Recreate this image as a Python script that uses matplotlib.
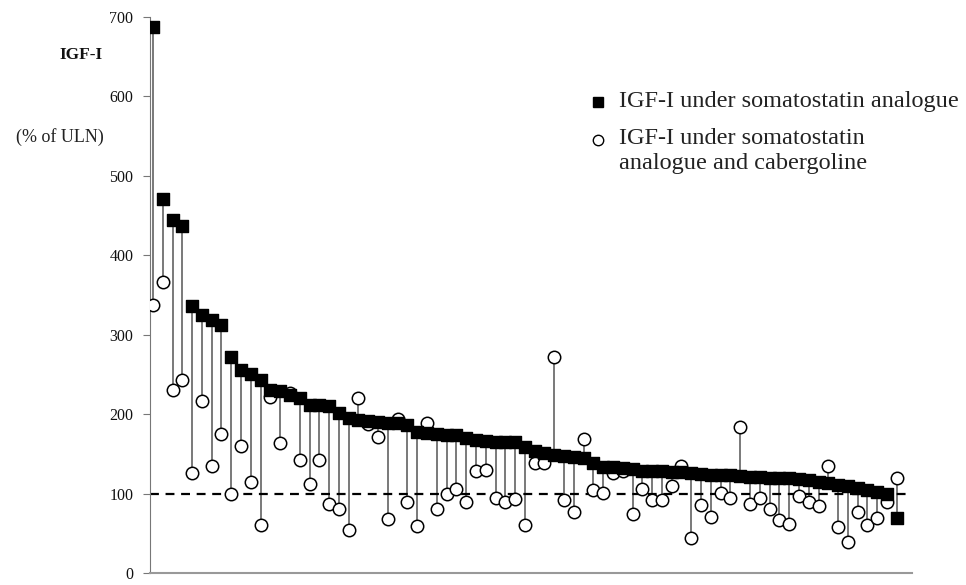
import matplotlib
matplotlib.use("Agg")
import matplotlib.pyplot as plt
from matplotlib.lines import Line2D
import numpy as np

# IGF-I (% of ULN) under somatostatin analogue, patients sorted descending
igf_ssa = [688, 471, 445, 437, 336, 325, 319, 312, 272, 256,
           250, 243, 231, 229, 224, 220, 212, 211, 210, 202,
           195, 193, 191, 190, 189, 189, 186, 178, 176, 175,
           174, 174, 170, 167, 166, 165, 165, 165, 159, 153,
           151, 149, 147, 146, 145, 138, 134, 133, 132, 131,
           129, 129, 128, 127, 127, 126, 125, 124, 124, 123,
           122, 121, 121, 120, 120, 119, 118, 117, 115, 113,
           111, 110, 107, 105, 102, 100, 69]
# IGF-I under somatostatin analogue + cabergoline
igf_combo = [337, 366, 230, 243, 126, 216, 135, 175, 100, 160,
             114, 60, 222, 164, 227, 142, 112, 142, 87, 80,
             54, 220, 188, 171, 68, 194, 89, 59, 189, 81,
             100, 106, 89, 129, 130, 94, 90, 93, 60, 138,
             138, 272, 92, 77, 169, 105, 101, 126, 129, 74,
             106, 92, 92, 109, 135, 44, 86, 70, 101, 94,
             184, 87, 94, 80, 67, 62, 97, 90, 84, 135,
             58, 39, 77, 60, 69, 90, 120]
yticks = [0, 100, 200, 300, 400, 500, 600, 700]
uln = 100

plt.rcParams['font.family'] = ['Liberation Serif', 'DejaVu Serif']

W, H = 966, 585
fig = plt.figure(figsize=(W/100, H/100), dpi=100)
ax = fig.add_axes([150/W, 12/H, (912-150)/W, (573-17)/H])

x = np.arange(len(igf_ssa))
ax.vlines(x, igf_combo, igf_ssa, colors='#555555', linewidth=1.1, zorder=1)
ax.axhline(uln, color='black', linestyle=(0, (4, 3)), linewidth=1.6, zorder=2)
ax.scatter(x, igf_combo, marker='o', s=80, facecolors='white',
           edgecolors='black', linewidths=1.1, zorder=3)
ax.scatter(x, igf_ssa, marker='s', s=75, color='black', zorder=4)

ax.set_xlim(-0.3, len(igf_ssa) - 1 + 1.55)
ax.set_ylim(0, 700)
ax.set_yticks(yticks)
ax.set_yticklabels([str(t) for t in yticks], fontsize=11.5, color='#111111')
ax.set_xticks([])
ax.tick_params(axis='y', direction='out', length=5, color='#777777', pad=7)
for s in ['top', 'right']:
    ax.spines[s].set_visible(False)
ax.spines['left'].set_color('#777777')
ax.spines['bottom'].set_color('#999999')
ax.spines['bottom'].set_linewidth(1.5)

fig.text(81/W, 1 - 55/H, 'IGF-I', fontsize=12.5, fontweight='bold',
         ha='center', va='center', color='#111111')
fig.text(60/W, 1 - 137/H, '(% of ULN)', fontsize=13,
         ha='center', va='center', color='#222222')

# legend drawn manually
fig.add_artist(Line2D([598/W], [1 - 102/H], marker='s', linestyle='none',
                      color='black', markersize=6.5, transform=fig.transFigure))
fig.add_artist(Line2D([598/W], [1 - 140/H], marker='o', linestyle='none',
                      markerfacecolor='white', markeredgecolor='black',
                      markeredgewidth=1.0, markersize=7.5,
                      transform=fig.transFigure))
leg_labels = ['IGF-I under somatostatin analogue',
              'IGF-I under somatostatin',
              'analogue and cabergoline']
leg_y = [101, 138, 163]
for lab, yy in zip(leg_labels, leg_y):
    fig.text(619/W, 1 - yy/H, lab, fontsize=17.5, ha='left', va='center',
             color='#222222')

fig.savefig('out.png', dpi=100)
